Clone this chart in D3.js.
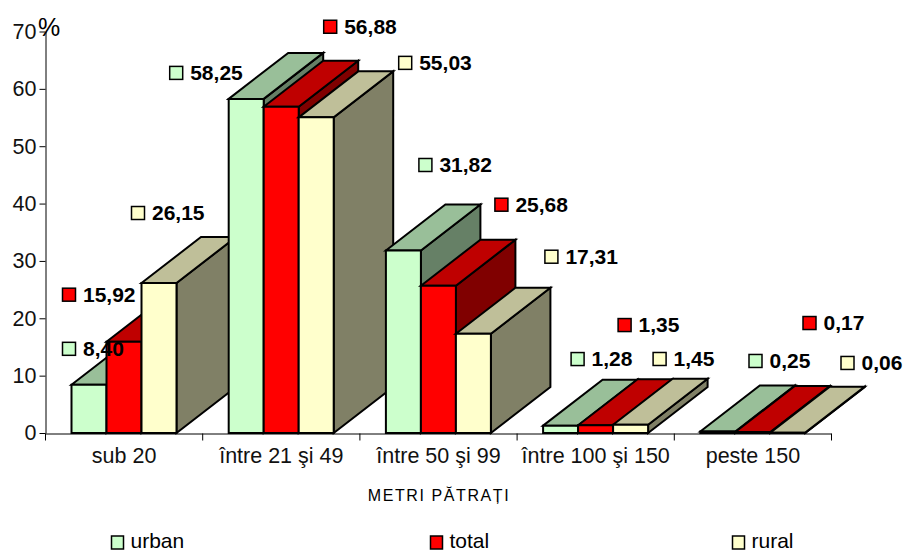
<!DOCTYPE html>
<html><head><meta charset="utf-8">
<script src="https://cdn.jsdelivr.net/npm/d3@7"></script>
<style>html,body{margin:0;padding:0;background:#fff}svg{display:block}text{font-family:"Liberation Sans",Arial,sans-serif;fill:#000}</style>
</head><body><svg id="c" width="904" height="551"></svg>
<script>
const categories = ["sub 20","între 21 şi 49","între 50 şi 99","între 100 şi 150","peste 150"];
const seriesNames = ["urban","total","rural"];
const urban = [8.40,58.25,31.82,1.28,0.25];
const total = [15.92,56.88,25.68,1.35,0.17];
const rural = [26.15,55.03,17.31,1.45,0.06];
const yTicks = [0,10,20,30,40,50,60,70];
const frontColors = ["#CCFFCC","#FF0000","#FFFFCC"];
const topColors = ["#99BF99","#BF0000","#BFBF99"];
const sideColors = ["#668066","#800000","#808066"];
// data-label offsets from the top centre of each bar's front face [dx,dy]
const urbanLabelOffsets = [[-20,-36],[-70,-26],[22,-85.5],[17,-66.6],[37.7,-70.6]];
const totalLabelOffsets = [[-55,-47],[49,-80],[63,-81],[29,-100.2],[56.7,-109]];
const ruralLabelOffsets = [[-21,-70],[89,-54.5],[78,-77],[29,-65.7],[59.7,-69.7]];

const values = [urban,total,rural];
const labelOffsets = [urbanLabelOffsets,totalLabelOffsets,ruralLabelOffsets];
const fmt = v => v.toFixed(2).replace(".",",");
const svg = d3.select("#c");
const x0 = d3.scaleBand().domain(categories).range([45.5,831.5]);
const xs = d3.scaleBand().domain(seriesNames).range([26,131]);
const y = d3.scaleLinear().domain([0,70]).range([433,31.5]);
const dx = 59.5, dy = 46;
const axisFont = 21.5, labelFont = 21;

const gBars = svg.append("g").attr("stroke","#000").attr("stroke-width",2).attr("stroke-linejoin","miter");
const path = pts => d3.line()(pts)+"Z";
categories.forEach((c,i)=>{
  seriesNames.forEach((s,j)=>{
    const l = x0(c)+xs(s), r = l+xs.bandwidth(), t = y(values[j][i]), b = y(0);
    gBars.append("path").attr("fill",sideColors[j]).attr("d",path([[r,t],[r+dx,t-dy],[r+dx,b-dy],[r,b]]));
    gBars.append("path").attr("fill",topColors[j]).attr("d",path([[l,t],[l+dx,t-dy],[r+dx,t-dy],[r,t]]));
    gBars.append("path").attr("fill",frontColors[j]).attr("d",path([[l,t],[r,t],[r,b],[l,b]]));
  });
});

// axes
const yAxis = svg.append("g").attr("transform","translate(45.5,0)")
  .call(d3.axisLeft(y).tickValues(yTicks).tickSize(6).tickPadding(3).tickSizeOuter(0));
yAxis.selectAll("text").attr("font-size",axisFont).style("font-family",'"Liberation Sans"').style("fill","#111");
const xTickScale = d3.scaleLinear().domain([0,categories.length]).range([45,831]);
svg.append("g").attr("transform","translate(0,433.5)")
  .call(d3.axisBottom(xTickScale).tickValues(d3.range(categories.length+1)).tickFormat("").tickSize(7).tickSizeOuter(0));
const xLab = svg.append("g").attr("transform","translate(0,433.5)")
  .call(d3.axisBottom(x0).tickSize(0).tickPadding(14));
xLab.select(".domain").remove();
xLab.selectAll("text").attr("font-size",axisFont).style("font-family",'"Liberation Sans"').style("fill","#111");

svg.append("text").attr("x",38).attr("y",36).attr("font-size",25).text("%");
svg.append("text").attr("x",439).attr("y",501).attr("text-anchor","middle").attr("font-size",16).attr("letter-spacing",1.6).text("METRI PĂTRAȚI");

// data labels
const gLab = svg.append("g");
categories.forEach((c,i)=>{
  seriesNames.forEach((s,j)=>{
    const cx = x0(c)+xs(s)+xs.bandwidth()/2, t = y(values[j][i]);
    const [ox,oy] = labelOffsets[j][i];
    const mx = cx+ox, my = t+oy;
    gLab.append("rect").attr("x",mx-6.5).attr("y",my-6.5).attr("width",13).attr("height",13)
      .attr("fill",frontColors[j]).attr("stroke","#000").attr("stroke-width",1.5);
    gLab.append("text").attr("x",mx+14).attr("y",my+7).attr("font-size",labelFont).attr("font-weight","bold").text(fmt(values[j][i]));
  });
});

// legend
const legendX = d3.scaleOrdinal().domain(seriesNames).range([117.5,436.5,738.5]);
seriesNames.forEach((s,j)=>{
  const lx = legendX(s);
  svg.append("rect").attr("x",lx-6).attr("y",536).attr("width",12).attr("height",13)
    .attr("fill",frontColors[j]).attr("stroke","#000").attr("stroke-width",1.5);
  svg.append("text").attr("x",lx+13).attr("y",548).attr("font-size",21).text(s);
});
</script></body></html>
